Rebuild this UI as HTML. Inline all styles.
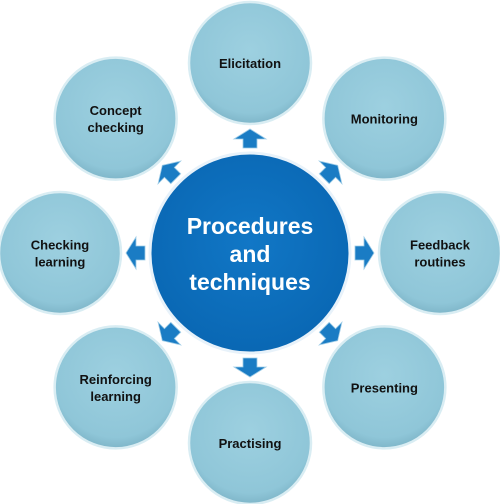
<!DOCTYPE html>
<html><head><meta charset="utf-8"><style>
html,body{margin:0;padding:0;background:#fff;}
svg{display:block;font-family:"Liberation Sans",Arial,sans-serif;}
</style></head><body>
<svg width="500" height="504" viewBox="0 0 500 504">
<defs>
<radialGradient id="og" cx="50%" cy="40%" r="60%">
<stop offset="0" stop-color="#9dd0e0"/><stop offset="0.85" stop-color="#8fc6d8"/><stop offset="1" stop-color="#7fb6c9"/>
</radialGradient>
<radialGradient id="cg" cx="50%" cy="45%" r="60%">
<stop offset="0" stop-color="#1177c6"/><stop offset="1" stop-color="#0966b2"/>
</radialGradient>
</defs>
<g id="arrows"></g>
<g id="nodes"></g>
<circle cx="250" cy="253" r="100" fill="url(#cg)" stroke="#e8f2fa" stroke-width="3"/>
<text x="250" y="234" text-anchor="middle" fill="#fff" font-weight="bold" font-size="23">Procedures</text>
<text x="250" y="262" text-anchor="middle" fill="#fff" font-weight="bold" font-size="23">and</text>
<text x="250" y="290" text-anchor="middle" fill="#fff" font-weight="bold" font-size="23">techniques</text>
</svg>
<script>
const labels=[["Elicitation"],["Monitoring"],["Feedback","routines"],["Presenting"],["Practising"],["Reinforcing","learning"],["Checking","learning"],["Concept","checking"]];
const names=["elicitation","monitoring","feedback-routines","presenting","practising","reinforcing-learning","checking-learning","concept-checking"];
const NS="http://www.w3.org/2000/svg";
const cx=250,cy=253,R=190,r=61;
const nodes=document.getElementById('nodes'),arrows=document.getElementById('arrows');
labels.forEach((lines,i)=>{
  const a=i*Math.PI/4;
  const x=cx+R*Math.sin(a),y=cy-R*Math.cos(a);
  const c=document.createElementNS(NS,'circle');
  c.setAttribute('cx',x);c.setAttribute('cy',y);c.setAttribute('r',r);
  c.setAttribute('fill','url(#og)');c.setAttribute('stroke','#d9edf3');c.setAttribute('stroke-width','2.5');
  
  
  nodes.appendChild(c);
  lines.forEach((t,j)=>{
    const tx=document.createElementNS(NS,'text');
    tx.setAttribute('x',x);tx.setAttribute('y',y+5+(j-(lines.length-1)/2)*17);
    tx.setAttribute('text-anchor','middle');tx.setAttribute('font-weight','bold');tx.setAttribute('font-size','13');tx.setAttribute('fill','#111');
    tx.textContent=t;
    
    
    nodes.appendChild(tx);
  });
  const p=document.createElementNS(NS,'polygon');
  p.setAttribute('points','-7,0 7,0 7,-9 16,-9 0,-19 -16,-9 -7,-9');
  p.setAttribute('fill','#1a7cc4');p.setAttribute('stroke','#9ccbe6');p.setAttribute('stroke-width','0.8');
  p.setAttribute('transform',`translate(${cx},${cy}) rotate(${i*45}) translate(0,-105)`);
  
  
  arrows.appendChild(p);
});
</script>
</body></html>
